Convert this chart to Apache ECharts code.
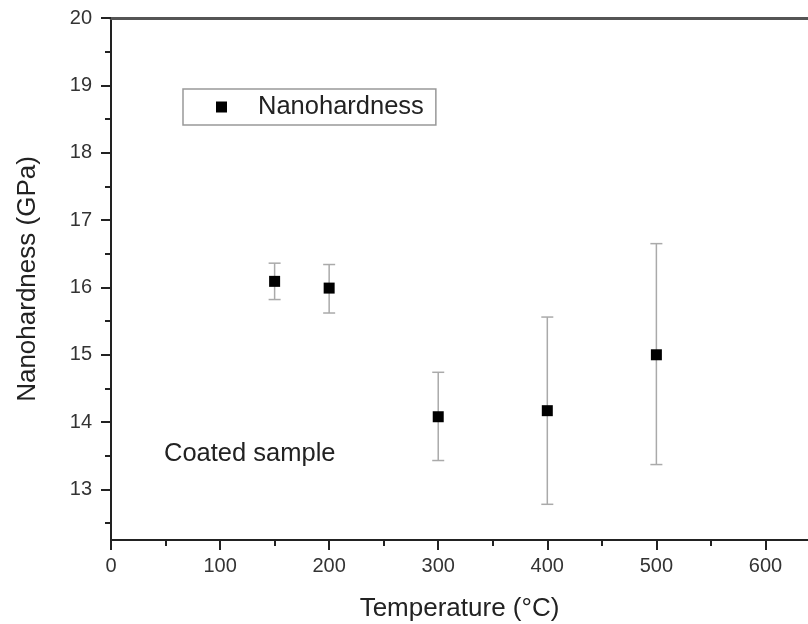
<!DOCTYPE html>
<html>
<head>
<meta charset="utf-8">
<script src="https://cdn.jsdelivr.net/npm/echarts@6/dist/echarts.min.js"></script>
<style>html,body{margin:0;padding:0;background:#fff}#c{width:808px;height:624px}</style>
</head>
<body>
<div id="c"></div>
<script>
var temps = [150, 200, 300, 400, 500];
var hardness = [16.09, 15.99, 14.08, 14.17, 15.00];
var errLow = [15.82, 15.62, 13.43, 12.78, 13.37];
var errHigh = [16.36, 16.34, 14.74, 15.56, 16.65];
var xMajorTicks = [0, 100, 200, 300, 400, 500, 600];
var xMinorTicks = [50, 150, 250, 350, 450, 550];
var yMajorTicks = [13, 14, 15, 16, 17, 18, 19, 20];
var yMinorTicks = [12.5, 13.5, 14.5, 15.5, 16.5, 17.5, 18.5, 19.5];
var seriesName = 'Nanohardness';
var annotation = 'Coated sample';
var xTitle = 'Temperature (°C)';
var yTitle = 'Nanohardness (GPa)';

var FONT = 'Liberation Sans, Arial, sans-serif';
var xMin = 0, xMax = 639, yMin = 12.25, yMax = 20;

var points = temps.map(function (t, i) { return [t, hardness[i]]; });
var bars = temps.map(function (t, i) { return [t, errLow[i], errHigh[i]]; });

var chart = echarts.init(document.getElementById('c'));
chart.setOption({
  animation: false,
  backgroundColor: '#fff',
  grid: { left: 111, right: 0, top: 18, bottom: 84, containLabel: false, outerBoundsMode: 'none' },
  legend: {
    left: 183, top: 89,
    data: [{ name: seriesName, icon: 'rect', itemStyle: { color: '#000', opacity: 1 } }],
    itemWidth: 11, itemHeight: 11,
    borderColor: '#999', borderWidth: 1.5,
    padding: [5, 12, 5, 33],
    textStyle: { fontFamily: FONT, fontSize: 25.5, color: '#222', padding: [0, 0, 0, 26] }
  },
  xAxis: [{
    type: 'value', min: xMin, max: xMax, position: 'bottom',
    name: xTitle, nameLocation: 'middle', nameGap: 56,
    nameTextStyle: { fontFamily: FONT, fontSize: 26, color: '#222' },
    axisLine: { show: true, onZero: false, lineStyle: { color: '#222', width: 2 } },
    axisTick: { show: true, inside: false, length: 10, customValues: xMajorTicks, lineStyle: { color: '#222', width: 2 } },
    axisLabel: { customValues: xMajorTicks, margin: 16, fontFamily: FONT, fontSize: 20, color: '#333' },
    splitLine: { show: false }
  }, {
    type: 'value', min: xMin, max: xMax, position: 'bottom',
    axisLine: { show: false },
    axisTick: { show: true, inside: false, length: 6, customValues: xMinorTicks, lineStyle: { color: '#222', width: 2 } },
    axisLabel: { show: false },
    splitLine: { show: false }
  }, {
    type: 'value', min: xMin, max: xMax, position: 'top',
    axisLine: { show: true, onZero: false, lineStyle: { color: '#555', width: 3 } },
    axisTick: { show: false }, axisLabel: { show: false }, splitLine: { show: false }
  }],
  yAxis: [{
    type: 'value', min: yMin, max: yMax, position: 'left',
    name: yTitle, nameLocation: 'middle', nameGap: 70,
    nameTextStyle: { fontFamily: FONT, fontSize: 26, color: '#222' },
    axisLine: { show: true, onZero: false, lineStyle: { color: '#222', width: 2 } },
    axisTick: { show: true, inside: false, length: 10, customValues: yMajorTicks, lineStyle: { color: '#222', width: 2 } },
    axisLabel: { customValues: yMajorTicks, margin: 19, fontFamily: FONT, fontSize: 20, color: '#333' },
    splitLine: { show: false }
  }, {
    type: 'value', min: yMin, max: yMax, position: 'left',
    axisLine: { show: false },
    axisTick: { show: true, inside: false, length: 6, customValues: yMinorTicks, lineStyle: { color: '#222', width: 2 } },
    axisLabel: { show: false },
    splitLine: { show: false }
  }],
  graphic: [{
    type: 'text', left: 164, top: 441,
    style: { text: annotation, fontFamily: FONT, fontSize: 25.5, fill: '#222' }
  }],
  series: [{
    type: 'custom',
    name: 'err',
    data: bars,
    renderItem: function (params, api) {
      var x = api.value(0);
      var lo = api.coord([x, api.value(1)]);
      var hi = api.coord([x, api.value(2)]);
      var c = 6;
      var st = { stroke: '#aaa', lineWidth: 1.5 };
      return {
        type: 'group',
        children: [
          { type: 'line', shape: { x1: lo[0], y1: lo[1], x2: hi[0], y2: hi[1] }, style: st },
          { type: 'line', shape: { x1: lo[0] - c, y1: lo[1], x2: lo[0] + c, y2: lo[1] }, style: st },
          { type: 'line', shape: { x1: hi[0] - c, y1: hi[1], x2: hi[0] + c, y2: hi[1] }, style: st }
        ]
      };
    },
    z: 1
  }, {
    type: 'scatter',
    name: seriesName,
    data: points,
    symbol: 'rect',
    symbolSize: 11,
    itemStyle: { color: '#000', opacity: 1 },
    z: 3
  }]
});
</script>
</body>
</html>
